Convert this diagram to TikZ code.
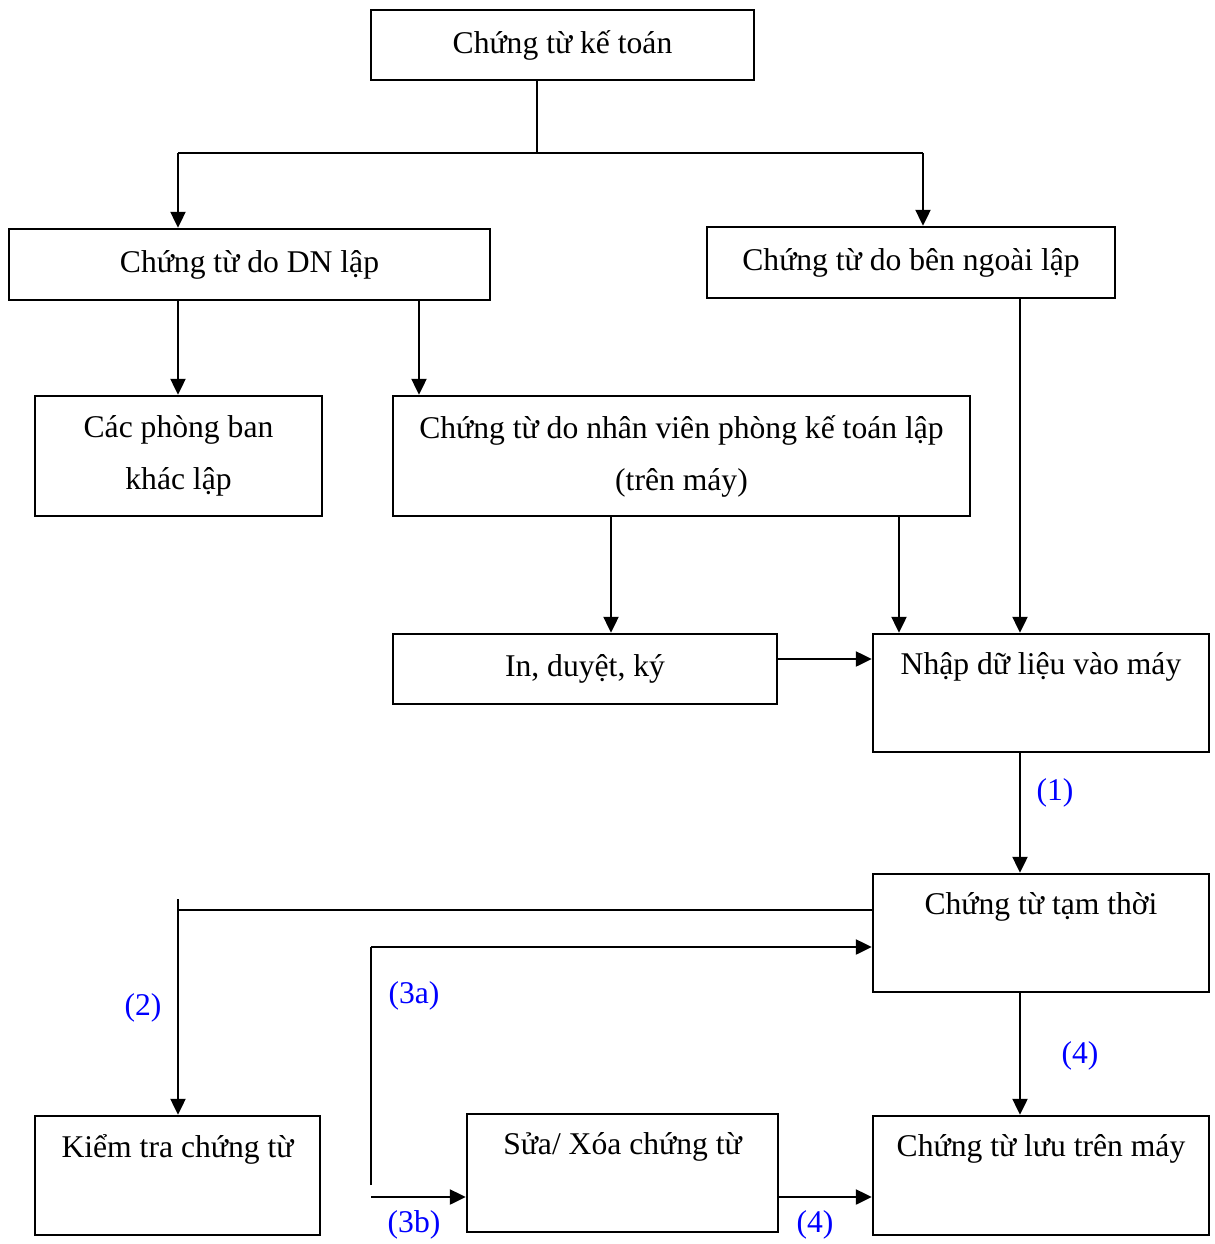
\documentclass[tikz,border=0pt]{standalone}
\usepackage{fontspec}
\setmainfont{Liberation Serif}
\usepackage{tikz}
\usetikzlibrary{positioning,calc,arrows.meta}

\tikzset{
    box/.style={draw, line width=1.4pt, rectangle, inner sep=0pt, font=\fontsize{18}{29.6}\selectfont, align=center},
    toplbl/.style={anchor=north, yshift=-7.5pt, font=\fontsize{18}{22}\selectfont},
    arr/.style={line width=1.3pt, -{Triangle[length=0.32cm,width=0.3cm]}},
    tline/.style={line width=0.7pt},
    num/.style={text=blue, font=\fontsize{18}{22}\selectfont}
}

\begin{document}
\begin{tikzpicture}[x=0.02cm,y=-0.02cm]
    \useasboundingbox (0,0) rectangle (1214,1244);

    % boxes
    \node[box, minimum width=7.66cm, minimum height=1.4cm] (ctkt) at (562.5,45) {Chứng từ kế toán};
    \node[box, minimum width=9.62cm, minimum height=1.42cm] (dn) at (249.5,264.5) {Chứng từ do DN lập};
    \node[box, minimum width=8.16cm, minimum height=1.42cm] (ngoai) at (911,262.5) {Chứng từ do bên ngoài lập};
    \node[box, minimum width=5.74cm, minimum height=2.4cm] (phong) at (178.5,456) {Các phòng ban\\khác lập};
    \node[box, minimum width=11.54cm, minimum height=2.4cm] (nv) at (681.5,456) {Chứng từ do nhân viên phòng kế toán lập\\(trên máy)};
    \node[box, minimum width=7.68cm, minimum height=1.4cm] (ky) at (585,669) {In, duyệt, ký};
    \node[box, minimum width=6.72cm, minimum height=2.36cm,
          label={[toplbl]north:Nhập dữ liệu vào máy}] (nhap) at (1041,693) {};
    \node[box, minimum width=6.72cm, minimum height=2.36cm,
          label={[toplbl]north:Chứng từ tạm thời}] (tam) at (1041,933) {};
    \node[box, minimum width=5.7cm, minimum height=2.38cm,
          label={[toplbl]north:Kiểm tra chứng từ}] (kiem) at (177.5,1175.5) {};
    \node[box, minimum width=6.22cm, minimum height=2.36cm,
          label={[toplbl]north:Sửa/ Xóa chứng từ}] (sua) at (622.5,1173) {};
    \node[box, minimum width=6.72cm, minimum height=2.38cm,
          label={[toplbl]north:Chứng từ lưu trên máy}] (luu) at (1041,1175.5) {};

    % split from the top box
    \coordinate (split) at (537,153);
    \coordinate (sL) at (178,153);
    \coordinate (sR) at (923,153);
    \draw[tline] (ctkt.south -| split) -- (split);
    \draw[tline] (sL) -- (sR);
    \draw[arr] (sL) -- (sL |- dn.north);
    \draw[arr] (sR) -- (sR |- ngoai.north);

    \draw[arr] (dn.south -| 178,0) -- (phong.north -| 178,0);
    \draw[arr] (dn.south -| 419,0) -- (nv.north -| 419,0);
    \draw[arr] (nv.south -| 611,0) -- (ky.north -| 611,0);
    \draw[arr] (nv.south -| 899,0) -- (nhap.north -| 899,0);
    \draw[arr] (ngoai.south -| 1020,0) -- (nhap.north -| 1020,0);
    \draw[arr] (ky.east |- 0,659) -- (nhap.west |- 0,659);

    \draw[arr] (nhap.south -| 1020,0) -- (tam.north -| 1020,0);
    \node[num] (n1) at (1055,793) {(1)};

    % kiem tra
    \coordinate (kL) at (178,899);
    \draw[tline] (tam.west |- 0,910) -- (kL |- 0,910);
    \draw[arr] (kL) -- (kiem.north -| kL);
    \node[num] (n2) at (143,1008) {(2)};

    % sua / xoa
    \coordinate (b3) at (371,1185);
    \coordinate (t3) at (371,947);
    \draw[tline] (b3) -- (t3);
    \draw[arr] (t3) -- (tam.west |- t3);
    \node[num] (n3a) at (414,996) {(3a)};
    \coordinate (s3) at (371,1197);
    \draw[arr] (s3) -- (sua.west |- s3);
    \node[num] (n3b) at (414,1225) {(3b)};

    \draw[arr] (sua.east |- s3) -- (luu.west |- s3);
    \node[num] (n4b) at (815,1225) {(4)};
    \draw[arr] (tam.south -| 1020,0) -- (luu.north -| 1020,0);
    \node[num] (n4a) at (1080,1056) {(4)};
\end{tikzpicture}
\end{document}
